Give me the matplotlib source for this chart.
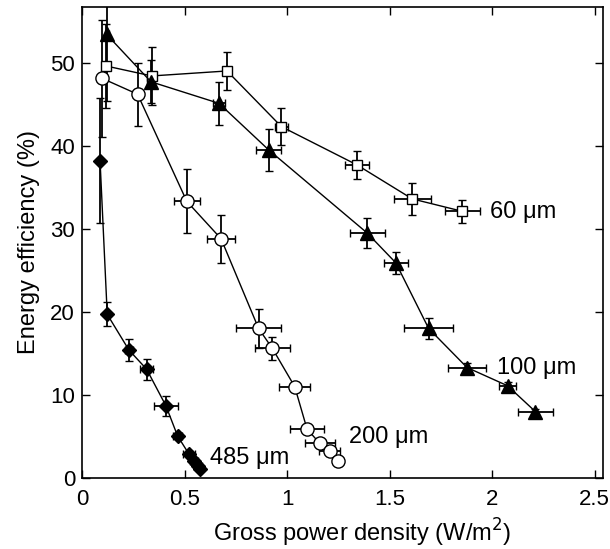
import matplotlib
matplotlib.use("Agg")
import matplotlib.pyplot as plt

plt.rcParams['font.family'] = ['Liberation Sans', 'DejaVu Sans']

# 60 um (open squares)
x60 = [0.117, 0.34, 0.707, 0.972, 1.34, 1.61, 1.855]
y60 = [49.6, 48.4, 49.0, 42.3, 37.7, 33.6, 32.1]
xe60 = [0.01, 0.02, 0.02, 0.03, 0.06, 0.09, 0.085]
ye60 = [5.0, 3.5, 2.3, 2.2, 1.7, 1.9, 1.4]

# 100 um (filled triangles)
x100 = [0.12, 0.336, 0.668, 0.91, 1.39, 1.53, 1.69, 1.877, 2.075, 2.21]
y100 = [53.4, 47.7, 45.1, 39.5, 29.5, 25.9, 18.0, 13.3, 11.1, 8.0]
xe100 = [0.01, 0.02, 0.03, 0.06, 0.085, 0.06, 0.12, 0.094, 0.04, 0.085]
ye100 = [8.0, 2.6, 2.6, 2.5, 1.8, 1.3, 1.3, 0.5, 0.4, 0.3]

# 200 um (open circles)
x200 = [0.099, 0.271, 0.511, 0.678, 0.861, 0.928, 1.037, 1.097, 1.158, 1.207, 1.248]
y200 = [48.1, 46.2, 33.3, 28.8, 18.0, 15.6, 11.0, 5.9, 4.2, 3.2, 2.05]
xe200 = [0.01, 0.02, 0.063, 0.07, 0.11, 0.085, 0.075, 0.084, 0.073, 0.05, 0.02]
ye200 = [7.0, 3.8, 3.85, 2.9, 2.35, 1.4, 0.5, 0.4, 0.3, 0.3, 0.2]

# 485 um (filled diamonds)
x485 = [0.088, 0.123, 0.229, 0.315, 0.409, 0.466, 0.521, 0.545, 0.566, 0.574]
y485 = [38.2, 19.7, 15.4, 13.1, 8.7, 5.06, 2.9, 2.0, 1.4, 1.05]
xe485 = [0.005, 0.01, 0.02, 0.03, 0.06, 0.02, 0.03, 0.02, 0.02, 0.01]
ye485 = [7.5, 1.45, 1.35, 1.25, 1.2, 0.4, 0.3, 0.3, 0.3, 0.2]

fig = plt.figure(figsize=(6.1, 5.49), dpi=100)
ax = fig.add_axes([82 / 610, (549 - 478) / 549, (603 - 82) / 610, (478 - 7) / 549])

common = dict(color='black', ecolor='black', elinewidth=1.3, capsize=3, capthick=1.3,
              linewidth=1.0, markeredgecolor='black', markeredgewidth=1.0)

ax.errorbar(x60, y60, xerr=xe60, yerr=ye60, marker='s', ms=7, mfc='white', **common)
ax.errorbar(x100, y100, xerr=xe100, yerr=ye100, marker='^', ms=9.5, mfc='black', **common)
ax.errorbar(x200, y200, xerr=xe200, yerr=ye200, marker='o', ms=9.5, mfc='white', **common)
ax.errorbar(x485, y485, xerr=xe485, yerr=ye485, marker='D', ms=7, mfc='black', **common)

fs = 17
ax.text(1.99, 32.0, '60 \u03bcm', fontsize=fs, va='center', ha='left')
ax.text(2.025, 13.3, '100 \u03bcm', fontsize=fs, va='center', ha='left')
ax.text(1.304, 4.9, '200 \u03bcm', fontsize=fs, va='center', ha='left')
ax.text(0.623, 2.4, '485 \u03bcm', fontsize=fs, va='center', ha='left')

ax.set_xlim(0, 2.54)
ax.set_ylim(0, 56.7)
ax.set_xticks([0, 0.5, 1, 1.5, 2, 2.5])
ax.set_xticklabels(['0', '0.5', '1', '1.5', '2', '2.5'])
ax.set_yticks([0, 10, 20, 30, 40, 50])
ax.tick_params(direction='in', top=True, right=True, length=6, width=1.0,
               labelsize=16)
ax.tick_params(axis='x', pad=8)
ax.tick_params(axis='y', pad=5)
for s in ax.spines.values():
    s.set_linewidth(1.2)

ax.set_xlabel('Gross power density (W/m$^2$)', fontsize=fs)
ax.xaxis.set_label_coords(0.537, -0.082)
ax.set_ylabel('Energy efficiency (%)', fontsize=fs, labelpad=7)

fig.savefig('out.png', dpi=100)
